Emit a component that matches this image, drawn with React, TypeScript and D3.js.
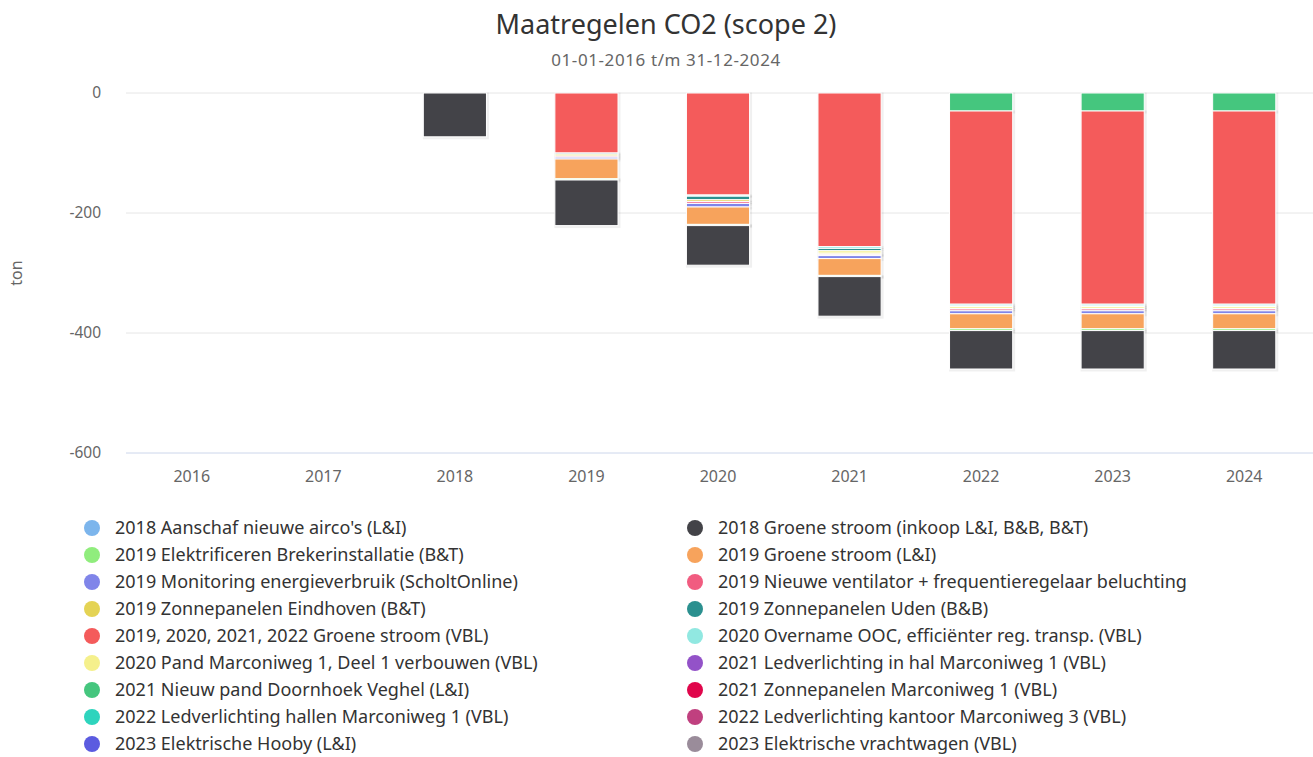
import React from "react";
import * as d3 from "d3";

const years = ["2016", "2017", "2018", "2019", "2020", "2021", "2022", "2023", "2024"];
const yTicks = [0, -200, -400, -600];

// values in ton (negative = reduction), one entry per year
const aircoLI = [0, 0, 0, 0, 0, 0, 0, 0, 0];
const groen2018 = [0, 0, -73, -76, -66, -66, -64, -64, -64];
const brekerBT = [0, 0, 0, -2, -2, -2, -3, -3, -3];
const groenLI = [0, 0, 0, -33, -29, -28, -25, -25, -25];
const monitoring = [0, 0, 0, -3, -6, -5, -5, -5, -5];
const ventilator = [0, 0, 0, -2, -3, -2, -3, -3, -3];
const zonEindhoven = [0, 0, 0, -3, -3, -2, -1, -1, -1];
const zonUden = [0, 0, 0, -2, -6, -4, -1, -1, -1];
const groenVBL = [0, 0, 0, -100, -170, -256, -322, -322, -322];
const overnameOOC = [0, 0, 0, 0, -2, -3, -3, -3, -3];
const pandMarconi = [0, 0, 0, 0, 0, -4, -3, -3, -3];
const ledHal = [0, 0, 0, 0, 0, 0, 0, 0, 0];
const doornhoek = [0, 0, 0, 0, 0, 0, -30, -30, -30];
const zonMarconi = [0, 0, 0, 0, 0, 0, 0, 0, 0];
const ledHallen = [0, 0, 0, 0, 0, 0, 0, 0, 0];
const ledKantoor = [0, 0, 0, 0, 0, 0, 0, 0, 0];
const hooby = [0, 0, 0, 0, 0, 0, 0, 0, 0];
const vrachtwagen = [0, 0, 0, 0, 0, 0, 0, 0, 0];

// legend order (alphabetical, as in the chart)
const series = [
  { name: "2018 Aanschaf nieuwe airco's (L&I)", color: "#7cb5ec", values: aircoLI },
  { name: "2018 Groene stroom (inkoop L&I, B&B, B&T)", color: "#434348", values: groen2018 },
  { name: "2019 Elektrificeren Brekerinstallatie (B&T)", color: "#90ed7d", values: brekerBT },
  { name: "2019 Groene stroom (L&I)", color: "#f7a35c", values: groenLI },
  { name: "2019 Monitoring energieverbruik (ScholtOnline)", color: "#8085e9", values: monitoring },
  { name: "2019 Nieuwe ventilator + frequentieregelaar beluchting", color: "#f15c80", values: ventilator },
  { name: "2019 Zonnepanelen Eindhoven (B&T)", color: "#e4d354", values: zonEindhoven },
  { name: "2019 Zonnepanelen Uden (B&B)", color: "#2b908f", values: zonUden },
  { name: "2019, 2020, 2021, 2022 Groene stroom (VBL)", color: "#f45b5b", values: groenVBL },
  { name: "2020 Overname OOC, efficiënter reg. transp. (VBL)", color: "#91e8e1", values: overnameOOC },
  { name: "2020 Pand Marconiweg 1, Deel 1 verbouwen (VBL)", color: "#f5f08c", values: pandMarconi },
  { name: "2021 Ledverlichting in hal Marconiweg 1 (VBL)", color: "#9352c8", values: ledHal },
  { name: "2021 Nieuw pand Doornhoek Veghel (L&I)", color: "#45c67e", values: doornhoek },
  { name: "2021 Zonnepanelen Marconiweg 1 (VBL)", color: "#e0064b", values: zonMarconi },
  { name: "2022 Ledverlichting hallen Marconiweg 1 (VBL)", color: "#2ed4bd", values: ledHallen },
  { name: "2022 Ledverlichting kantoor Marconiweg 3 (VBL)", color: "#c0407f", values: ledKantoor },
  { name: "2023 Elektrische Hooby (L&I)", color: "#5b5be0", values: hooby },
  { name: "2023 Elektrische vrachtwagen (VBL)", color: "#9a8c9a", values: vrachtwagen },
];

// stacking order from the zero line downwards (indexes into series)
const stackOrder = [16, 17, 15, 14, 13, 11, 12, 8, 9, 7, 10, 6, 5, 4, 3, 2, 1, 0];

const W = 1313;
const H = 757;
const FONT = "'Noto Sans', sans-serif";

export default function App() {
  const x = d3.scaleBand().domain(years).range([126, 1310]).paddingInner(0.52).paddingOuter(0.26);
  const y = d3.scaleLinear().domain([-600, 0]).range([453, 93]);

  const segs: { key: string; x: number; y0: number; y1: number; color: string }[] = [];
  years.forEach((yr, i) => {
    let acc = 0;
    stackOrder.forEach((si) => {
      const v = series[si].values[i];
      if (!v) return;
      const next = acc + v;
      segs.push({ key: yr + "-" + si, x: x(yr)!, y0: y(acc), y1: y(next), color: series[si].color });
      acc = next;
    });
  });

  return (
    <svg width={W} height={H} style={{ position: "absolute", left: 0, top: 0, fontFamily: FONT }}>
      <rect width={W} height={H} fill="#fff" />
      <text x={666} y={34} textAnchor="middle" fontSize={27} fill="#333">Maatregelen CO2 (scope 2)</text>
      <text x={666} y={66} textAnchor="middle" fontSize={17} fill="#666" letterSpacing={0.6}>01-01-2016 t/m 31-12-2024</text>

      {yTicks.map((t) => (
        <g key={t}>
          <line x1={126} x2={W} y1={y(t)} y2={y(t)} stroke={t === -600 ? "#ccd6eb" : "#e6e6e6"} />
          <text x={101} y={y(t) + 5} textAnchor="end" fontSize={15.5} fill="#666">{t}</text>
        </g>
      ))}
      <text transform="translate(22,273) rotate(-90)" textAnchor="middle" fontSize={16} fill="#666">ton</text>

      {years.map((yr) => (
        <text key={yr} x={x(yr)! + x.bandwidth() / 2} y={482} textAnchor="middle" fontSize={16} fill="#666">{yr}</text>
      ))}

      {segs.map((s) => (
        <rect key={"sh" + s.key} x={s.x + 1} y={Math.min(s.y0, s.y1) + 1} width={x.bandwidth()} height={Math.abs(s.y1 - s.y0)}
          fill="none" stroke="#000" strokeOpacity={0.06} strokeWidth={3} />
      ))}
      {segs.map((s) => (
        <rect key={s.key} x={s.x} y={Math.min(s.y0, s.y1)} width={x.bandwidth()} height={Math.abs(s.y1 - s.y0)}
          fill={s.color} stroke="#fff" strokeWidth={1} />
      ))}

      {series.map((s, i) => {
        const col = i % 2;
        const row = Math.floor(i / 2);
        const lx = col === 0 ? 92 : 695;
        const ly = 528 + row * 27;
        return (
          <g key={s.name}>
            <circle cx={lx} cy={ly} r={8} fill={s.color} />
            <text x={lx + 23} y={ly + 6} fontSize={18} fill="#333">{s.name}</text>
          </g>
        );
      })}
    </svg>
  );
}
